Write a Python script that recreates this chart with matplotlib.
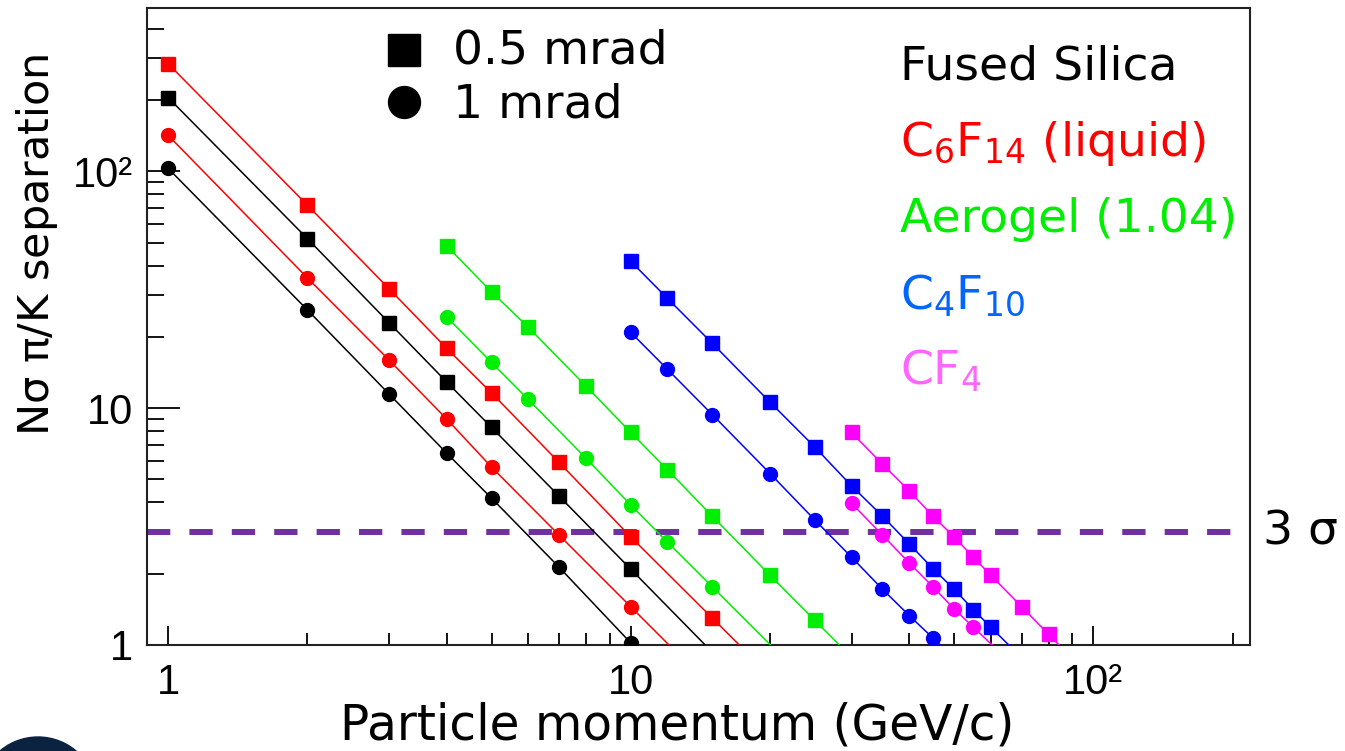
import matplotlib
matplotlib.use("Agg")
import matplotlib.pyplot as plt
import numpy as np
from matplotlib.patches import Ellipse

plt.rcParams['mathtext.fontset'] = 'dejavusans'
plt.rcParams['mathtext.default'] = 'regular'

# values (momentum in GeV/c, separation in sigma)
fused_p = [1, 2, 3, 4, 5, 7, 10]
fused_05 = [205, 52, 23, 12.9, 8.3, 4.25, 2.09]
fused_1 = [103, 26, 11.5, 6.46, 4.17, 2.13, 1.02]

c6f14_p_05 = [1, 2, 3, 4, 5, 7, 10, 15]
c6f14_05 = [285, 72, 32, 17.9, 11.6, 5.9, 2.86, 1.3]
c6f14_p_1 = [1, 2, 3, 4, 5, 7, 10]
c6f14_1 = [142, 35.5, 16, 9.0, 5.64, 2.91, 1.45]

aero_p_05 = [4, 5, 6, 8, 10, 12, 15, 20, 25]
aero_05 = [48.5, 31, 22, 12.4, 7.9, 5.5, 3.5, 1.97, 1.27]
aero_p_1 = [4, 5, 6, 8, 10, 12, 15]
aero_1 = [24.3, 15.6, 10.9, 6.15, 3.9, 2.72, 1.76]

c4f10_p_05 = [10, 12, 15, 20, 25, 30, 35, 40, 45, 50, 55, 60]
c4f10_05 = [41.7, 29.1, 18.8, 10.6, 6.85, 4.7, 3.5, 2.67, 2.1, 1.72, 1.41, 1.19]
c4f10_p_1 = [10, 12, 15, 20, 25, 30, 35, 40, 45]
c4f10_1 = [20.9, 14.6, 9.4, 5.3, 3.37, 2.35, 1.72, 1.33, 1.07]

cf4_p_05 = [30, 35, 40, 45, 50, 55, 60, 70, 80]
cf4_05 = [7.9, 5.8, 4.47, 3.5, 2.86, 2.35, 1.97, 1.45, 1.11]
cf4_p_1 = [30, 35, 40, 45, 50, 55]
cf4_1 = [3.97, 2.91, 2.22, 1.76, 1.42, 1.19]

radiators = ['Fused Silica', r'C$_{6}$F$_{14}$ (liquid)', 'Aerogel (1.04)',
             r'C$_{4}$F$_{10}$', r'CF$_{4}$']
line_colors = ['black', '#ff0000', '#00ee00', '#0000ff', '#ff00ff']
text_colors = ['black', '#ff0000', '#00ee00', '#0066ff', '#ff66ff']

series = [
    (fused_p, fused_05, fused_p, fused_1),
    (c6f14_p_05, c6f14_05, c6f14_p_1, c6f14_1),
    (aero_p_05, aero_05, aero_p_1, aero_1),
    (c4f10_p_05, c4f10_05, c4f10_p_1, c4f10_1),
    (cf4_p_05, cf4_05, cf4_p_1, cf4_1),
]

tick_vals = [1, 10, 100]
tick_text = ['1', '10', '10\u00b2']

YMIN, YMAX = 1, 490
XMIN, XMAX = 0.9, 218


def to_floor(p, v):
    # carry the curve on (straight in log-log) down to the bottom of the frame
    s = (np.log(v[-1]) - np.log(v[-2])) / (np.log(p[-1]) - np.log(p[-2]))
    p_end = np.exp(np.log(p[-1]) + (np.log(YMIN) - np.log(v[-1])) / s)
    return list(p) + [p_end], list(v) + [YMIN]


fig = plt.figure(figsize=(13.45, 7.51), dpi=100)
ax = fig.add_axes([147 / 1345, 1 - 645 / 751, 1103 / 1345, 637 / 751])
ax.set_xscale('log')
ax.set_yscale('log')

for (p05, v05, p1, v1), c in zip(series, line_colors):
    for p, v, m, ms in [(p05, v05, 's', 10), (p1, v1, 'o', 10)]:
        xs, ys = to_floor(p, v)
        ax.plot(xs, ys, color=c, lw=1.1, marker=m, ms=ms, mec=c, mfc=c,
                markevery=list(range(len(p))), zorder=3)

ax.axhline(3, color='#7030a0', lw=4.3, dashes=(3.9, 3.2), zorder=2)

ax.set_xlim(XMIN, XMAX)
ax.set_ylim(YMIN, YMAX)

for axis in (ax.xaxis, ax.yaxis):
    axis.set_major_locator(matplotlib.ticker.FixedLocator(tick_vals))
    axis.set_major_formatter(matplotlib.ticker.FixedFormatter(tick_text))
    axis.set_minor_locator(matplotlib.ticker.LogLocator(base=10, subs=np.arange(2, 10)))
    axis.set_minor_formatter(matplotlib.ticker.NullFormatter())

ax.tick_params(which='both', labelfontfamily='Liberation Sans', labelsize=30)
ax.tick_params(axis='x', which='major', direction='in', length=14, width=1.3, pad=13)
ax.tick_params(axis='x', which='minor', direction='in', length=8.5, width=1.3)
ax.tick_params(axis='y', which='major', direction='in', length=24, width=1.3, pad=10)
ax.tick_params(axis='y', which='minor', direction='in', length=12, width=1.3)
for sp in ax.spines.values():
    sp.set_linewidth(1.5)
    sp.set_color('#222222')

ax.set_xlabel('Particle momentum (GeV/c)', fontsize=35, family='DejaVu Sans')
ax.xaxis.set_label_coords((677 - 147) / 1103, (645 - 725) / 637)
ax.xaxis.label.set_va('center')
ax.set_ylabel(r'N$\sigma$ $\pi$/K separation', fontsize=31, family='DejaVu Sans')
ax.yaxis.set_label_coords((37 - 147) / 1103, (645 - 245) / 637)
ax.yaxis.label.set_va('center')
ax.yaxis.label.set_ha('center')

# marker key
for y_mk, y_txt, m, txt in [(50, 63, 's', '0.5 mrad'), (102, 118, 'o', '1 mrad')]:
    ax.plot([(404 - 147) / 1103], [(645 - y_mk) / 637], marker=m, ms=23,
            color='black', transform=ax.transAxes, clip_on=False)
    ax.text((453 - 147) / 1103, (645 - y_txt) / 637, txt, fontsize=34,
            transform=ax.transAxes, va='baseline', ha='left')

# radiator names
for name, c, base in zip(radiators, text_colors, [80, 156, 232, 308, 384]):
    ax.text((900 - 147) / 1103, (645 - base) / 637, name, color=c, fontsize=34,
            transform=ax.transAxes, va='baseline', ha='left')

ax.text((1262 - 147) / 1103, (645 - 531) / 637, r'3 $\sigma$', fontsize=34,
        transform=ax.transAxes, va='center', ha='left', clip_on=False)

# slide logo peeking in at the bottom-left corner
fig.patches.append(Ellipse((38 / 1345, 1 - 796 / 751), 118 / 1345, 118 / 751,
                           transform=fig.transFigure, color='#0b2340', zorder=0))

fig.savefig('out.png', dpi=100)
